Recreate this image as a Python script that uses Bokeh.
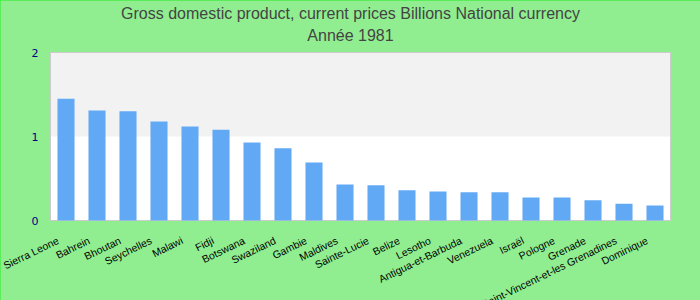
import math
from bokeh.plotting import figure
from bokeh.models import ColumnDataSource, Range1d
from bokeh.core.properties import value
from bokeh.embed import file_html
from bokeh.resources import INLINE

countries = ["Sierra Leone", "Bahrein", "Bhoutan", "Seychelles", "Malawi", "Fidji",
             "Botswana", "Swaziland", "Gambie", "Maldives", "Sainte-Lucie", "Belize",
             "Lesotho", "Antigua-et-Barbuda", "Venezuela", "Israël", "Pologne", "Grenade",
             "Saint-Vincent-et-les Grenadines", "Dominique"]
values = [1.45, 1.31, 1.30, 1.18, 1.12, 1.08, 0.93, 0.86, 0.69, 0.43, 0.42, 0.36,
          0.345, 0.335, 0.335, 0.275, 0.275, 0.24, 0.20, 0.18]
y_ticks = [0, 1, 2]
y_tick_labels = ["0", "1", "2"]
title_main = "Gross domestic product, current prices Billions National currency"
title_sub = "Année 1981"

W, H = 700, 300
# plot area in pixels: left 50, right 670, top 52, bottom 220
n = len(countries)
px_per_cat = (670 - 50) / n
px_per_unit = (220 - 52) / (y_ticks[-1] - y_ticks[0])
x_start = -50 / px_per_cat
x_end = x_start + W / px_per_cat
y_start = -(H - 220) / px_per_unit
y_end = y_start + H / px_per_unit

xs = [i + 0.5 for i in range(n)]
src = ColumnDataSource(dict(x=xs, y=values, name=countries, zero=[0] * n))

p = figure(width=W, height=H, x_range=Range1d(x_start, x_end), y_range=Range1d(y_start, y_end),
           output_backend="svg", toolbar_location=None, title=None,
           min_border=0, min_border_left=0, min_border_right=0, min_border_top=0, min_border_bottom=0)
p.styles = {"outline": "2px solid #22ee22", "outline-offset": "-2px"}
p.background_fill_color = "#90EE90"
p.border_fill_color = "#90EE90"
p.outline_line_color = None
p.xgrid.visible = False
p.ygrid.visible = False
p.xaxis.visible = False
p.yaxis.visible = False

# plot area: white background, light grey alternate band 1-2, grey border
p.quad(left=[0], right=[n], bottom=[y_ticks[0]], top=[y_ticks[-1]],
       fill_color="white", line_color=None)
p.quad(left=[0], right=[n], bottom=[y_ticks[1]], top=[y_ticks[2]],
       fill_color="#f2f2f2", line_color=None)
p.quad(left=[0], right=[n], bottom=[y_ticks[0]], top=[y_ticks[-1]],
       fill_color=None, line_color="#cccccc", line_width=1)

p.vbar(x="x", top="y", width=0.55, source=src, fill_color="#62a9f5", line_color=None)

# y tick labels
p.text(x=[0] * len(y_ticks), y=y_ticks, text=y_tick_labels, x_offset=-12,
       text_align="right", text_baseline="middle", text_color="#000080",
       text_font=value("DejaVu Sans"), text_font_size="11px")

# x category labels
p.text(x="x", y="zero", text="name", source=src, angle=math.radians(26), x_offset=-8, y_offset=19,
       text_align="right", text_baseline="alphabetic", text_color="black",
       text_font=value("Liberation Sans"), text_font_size="10.5px")

# titles
xc = (x_start + x_end) / 2
p.text(x=[xc, xc], y=[(220 - 13) / px_per_unit, (220 - 35) / px_per_unit],
       text=[title_main, title_sub], text_align="center", text_baseline="middle",
       text_color="#444444", text_font=value("Liberation Sans"), text_font_size="16px")

open("out.html", "w").write(file_html(p, INLINE))
